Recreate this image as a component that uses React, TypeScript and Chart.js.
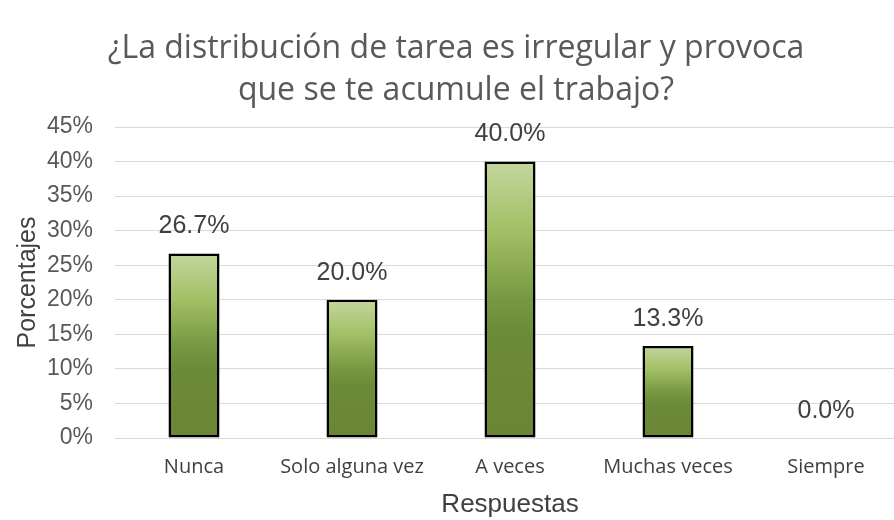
import React, { useEffect, useRef } from "react";
import { Chart, registerables } from "chart.js";

Chart.register(...registerables);

const titleLines = ["¿La distribución de tarea es irregular y provoca", "que se te acumule el trabajo?"];
const categories = ["Nunca", "Solo alguna vez", "A veces", "Muchas veces", "Siempre"];
const percentages = [26.7, 20.0, 40.0, 13.3, 0.0];
const yAxisTitle = "Porcentajes";
const xAxisTitle = "Respuestas";
const yMax = 45;
const yStep = 5;

const titlePlugin = {
  id: "customTitle",
  afterDraw(chart: any) {
    const ctx = chart.ctx;
    ctx.save();
    ctx.font = '32px "Open Sans", sans-serif';
    ctx.fillStyle = "#595959";
    ctx.textAlign = "center";
    ctx.textBaseline = "middle";
    const cx = 456;
    titleLines.forEach((line, i) => {
      ctx.fillText(line, cx, 49 + i * 42);
    });
    ctx.restore();
  },
};

const valueLabels = {
  id: "valueLabels",
  afterDatasetsDraw(chart: any) {
    const ctx = chart.ctx;
    const meta = chart.getDatasetMeta(0);
    ctx.save();
    ctx.font = '25px "Liberation Sans", Arial, sans-serif';
    ctx.fillStyle = "#404040";
    ctx.textAlign = "center";
    ctx.textBaseline = "middle";
    meta.data.forEach((bar: any, i: number) => {
      const v = chart.data.datasets[0].data[i] as number;
      ctx.fillText(v.toFixed(1) + "%", bar.x, bar.y - 27);
    });
    ctx.restore();
  },
};

export default function App() {
  const ref = useRef<HTMLCanvasElement>(null);
  useEffect(() => {
    document.body.style.margin = "0";
    const canvas = ref.current!;
    const chart = new Chart(canvas, {
      type: "bar",
      data: {
        labels: categories,
        datasets: [
          {
            data: percentages,
            backgroundColor: (c: any) => {
              const ch = c.chart;
              const ys = ch.scales?.y;
              if (!ys || c.raw === undefined || !ch.chartArea) return "#7a9a45";
              const top = ys.getPixelForValue(c.raw);
              const bottom = ys.getPixelForValue(0);
              if (!isFinite(top) || !isFinite(bottom) || bottom - top < 1) return "#7a9a45";
              const g = ch.ctx.createLinearGradient(0, top, 0, bottom);
              g.addColorStop(0, "#c3d69e");
              g.addColorStop(0.25, "#a2c065");
              g.addColorStop(0.5, "#779841");
              g.addColorStop(0.62, "#6c8b3a");
              g.addColorStop(1, "#6a8535");
              return g;
            },
            borderColor: "#000000",
            borderWidth: 2.5,
            borderSkipped: false,
            categoryPercentage: 1,
            barPercentage: 0.323,
          },
        ],
      },
      options: {
        responsive: false,
        animation: false,
        layout: { padding: { left: 0, right: 0, top: 127, bottom: 0 } },
        plugins: {
          legend: { display: false },
          tooltip: { enabled: false },
          title: { display: false },
        },
        scales: {
          y: {
            min: 0,
            max: yMax,
            afterFit: (s: any) => {
              s.width = 115;
            },
            ticks: {
              stepSize: yStep,
              callback: (v: any) => v + "%",
              color: "#595959",
              font: { family: '"Liberation Sans", Arial, sans-serif', size: 23 },
              padding: 22,
            },
            grid: { color: "#d9d9d9", lineWidth: 1, drawTicks: false },
            border: { display: false },
            title: {
              display: true,
              text: yAxisTitle,
              color: "#404040",
              font: { family: '"Liberation Sans", Arial, sans-serif', size: 25 },
              padding: { top: 13, bottom: 0 },
            },
          },
          x: {
            afterFit: (s: any) => {
              s.height = 82;
            },
            ticks: {
              color: "#404040",
              font: { family: '"Liberation Sans Narrow", "Open Sans", sans-serif', size: 20 },
              padding: 17,
              maxRotation: 0,
            },
            grid: { display: false, drawTicks: false },
            border: { display: false },
            title: {
              display: true,
              text: xAxisTitle,
              color: "#404040",
              font: { family: '"Liberation Sans", Arial, sans-serif', size: 26 },
              padding: { top: 0, bottom: 0 },
            },
          },
        },
      },
      plugins: [valueLabels, titlePlugin],
    });
    return () => chart.destroy();
  }, []);
  return (
    <div style={{ width: 894, height: 520, overflow: "hidden" }}>
      <canvas ref={ref} width={905} height={520} style={{ display: "block" }} />
    </div>
  );
}
